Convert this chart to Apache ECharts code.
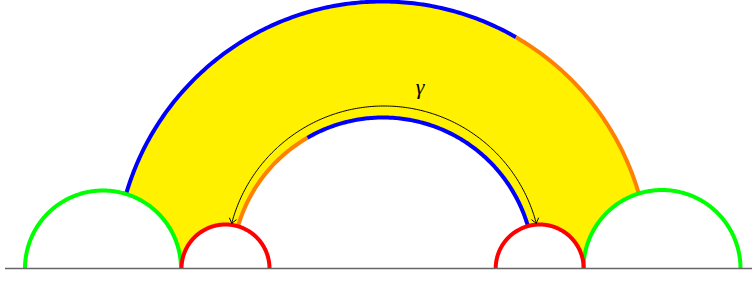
<!DOCTYPE html>
<html>
<head>
<meta charset="utf-8">
<title>geodesics</title>
<script src="https://cdn.jsdelivr.net/npm/echarts@6.0.0/dist/echarts.min.js"></script>
<style>
html, body { margin: 0; padding: 0; background: #fff; }
#main { width: 756px; height: 281px; }
</style>
</head>
<body>
<div id="main"></div>
<script>
// half circles standing on the base line: [centre x, radius], y is measured up from the line
var outerArc = [382.5, 267];
var innerArc = [383, 151];
var greenCircles = [[103, 78], [662, 78.5]];
var redCircles = [[225.5, 44], [539.7, 44]];
// angle (degrees) where the colour switches between blue and orange
var outerSplit = 60;
var innerSplit = 120;
// gamma arrow: centre x, centre y, radius, start/end angle
var gammaArc = [384, 5, 157.5, 14.8, 165.2];
var gammaLabel = ['γ', 420, 182];
var baseLine = [5, 752];

var chartDom = document.getElementById('main');
var myChart = echarts.init(chartDom, null, { renderer: 'svg' });

function deg(a) { return a * Math.PI / 180; }

// x where two circles centred on the base line cross
function meetX(a, R, b, r) {
    return (R * R - r * r - a * a + b * b) / (2 * (b - a));
}
function angleOn(c, r, x) {
    return Math.acos((x - c) / r) * 180 / Math.PI;
}

function arcPts(api, cx, cy, r, a0, a1) {
    var pts = [];
    var n = Math.max(8, Math.ceil(Math.abs(a1 - a0) * 1.5));
    for (var i = 0; i <= n; i++) {
        var t = deg(a0 + (a1 - a0) * i / n);
        pts.push(api.coord([cx + r * Math.cos(t), cy + r * Math.sin(t)]));
    }
    return pts;
}

function line(pts, color, w) {
    return { type: 'polyline', shape: { points: pts }, style: { stroke: color, lineWidth: w, fill: null, lineJoin: 'round' } };
}

function renderItem(params, api) {
    var oc = outerArc[0], oR = outerArc[1];
    var ic = innerArc[0], iR = innerArc[1];
    var gL = greenCircles[0], gR = greenCircles[1];
    var rL = redCircles[0], rR = redCircles[1];

    // end points of the outer geodesic on the green circles
    var xo1 = meetX(oc, oR, gL[0], gL[1]);
    var xo2 = meetX(oc, oR, gR[0], gR[1]);
    // end points of the inner geodesic on the red circles
    var xi1 = meetX(ic, iR, rL[0], rL[1]);
    var xi2 = meetX(ic, iR, rR[0], rR[1]);

    var oA1 = angleOn(oc, oR, xo1), oA2 = angleOn(oc, oR, xo2);
    var iA1 = angleOn(ic, iR, xi1), iA2 = angleOn(ic, iR, xi2);

    var poly = [].concat(
        arcPts(api, oc, 0, oR, oA1, oA2),
        arcPts(api, gR[0], 0, gR[1], angleOn(gR[0], gR[1], xo2), 180),
        arcPts(api, rR[0], 0, rR[1], 0, angleOn(rR[0], rR[1], xi2)),
        arcPts(api, ic, 0, iR, iA2, iA1),
        arcPts(api, rL[0], 0, rL[1], angleOn(rL[0], rL[1], xi1), 180),
        arcPts(api, gL[0], 0, gL[1], 0, angleOn(gL[0], gL[1], xo1))
    );

    var kids = [];
    kids.push({ type: 'polygon', shape: { points: poly }, style: { fill: '#fff100', stroke: null } });

    kids.push(line(arcPts(api, oc, 0, oR, oA1, outerSplit), '#0000ff', 4));
    kids.push(line(arcPts(api, oc, 0, oR, outerSplit, oA2), '#ff8000', 4));
    kids.push(line(arcPts(api, ic, 0, iR, iA1, innerSplit), '#ff8000', 4));
    kids.push(line(arcPts(api, ic, 0, iR, innerSplit, iA2), '#0000ff', 4));

    greenCircles.forEach(function (c) {
        kids.push(line(arcPts(api, c[0], 0, c[1], 0, 180), '#00ff00', 4));
    });
    redCircles.forEach(function (c) {
        kids.push(line(arcPts(api, c[0], 0, c[1], 0, 180), '#ff0000', 4));
    });

    kids.push(line([api.coord([baseLine[0], 0]), api.coord([baseLine[1], 0])], '#666666', 1.6));

    // gamma arrow with open heads on both ends
    var gx = gammaArc[0], gy = gammaArc[1], gr = gammaArc[2];
    kids.push(line(arcPts(api, gx, gy, gr, gammaArc[3], gammaArc[4]), '#000000', 1));
    [[gammaArc[3], -1], [gammaArc[4], 1]].forEach(function (e) {
        var t = deg(e[0]);
        var tip = api.coord([gx + gr * Math.cos(t), gy + gr * Math.sin(t)]);
        // travel direction in screen space at the end of the arc
        var dx = -Math.sin(t) * e[1], dy = -Math.cos(t) * e[1];
        var len = 6, sp = deg(38);
        var pts = [];
        [sp, -sp].forEach(function (s) {
            var bx = -dx * Math.cos(s) + dy * Math.sin(s);
            var by = -dy * Math.cos(s) - dx * Math.sin(s);
            pts.push([tip[0] + bx * len, tip[1] + by * len]);
        });
        kids.push(line([pts[0], tip, pts[1]], '#000000', 1));
    });

    var lp = api.coord([gammaLabel[1], gammaLabel[2]]);
    kids.push({
        type: 'text',
        style: {
            text: gammaLabel[0], x: lp[0], y: lp[1],
            fontFamily: 'Liberation Serif', fontStyle: 'italic', fontSize: 22,
            fill: '#000', align: 'center', verticalAlign: 'middle'
        }
    });

    return { type: 'group', children: kids };
}

var option = {
    animation: false,
    grid: { left: 0, right: 0, top: 0, bottom: 0 },
    xAxis: { type: 'value', min: 0, max: 756, show: false },
    yAxis: { type: 'value', min: -12.5, max: 268.5, show: false },
    series: [{
        type: 'custom',
        renderItem: renderItem,
        silent: true,
        clip: false,
        data: [[0, 0]]
    }]
};
option && myChart.setOption(option);
</script>
</body>
</html>
